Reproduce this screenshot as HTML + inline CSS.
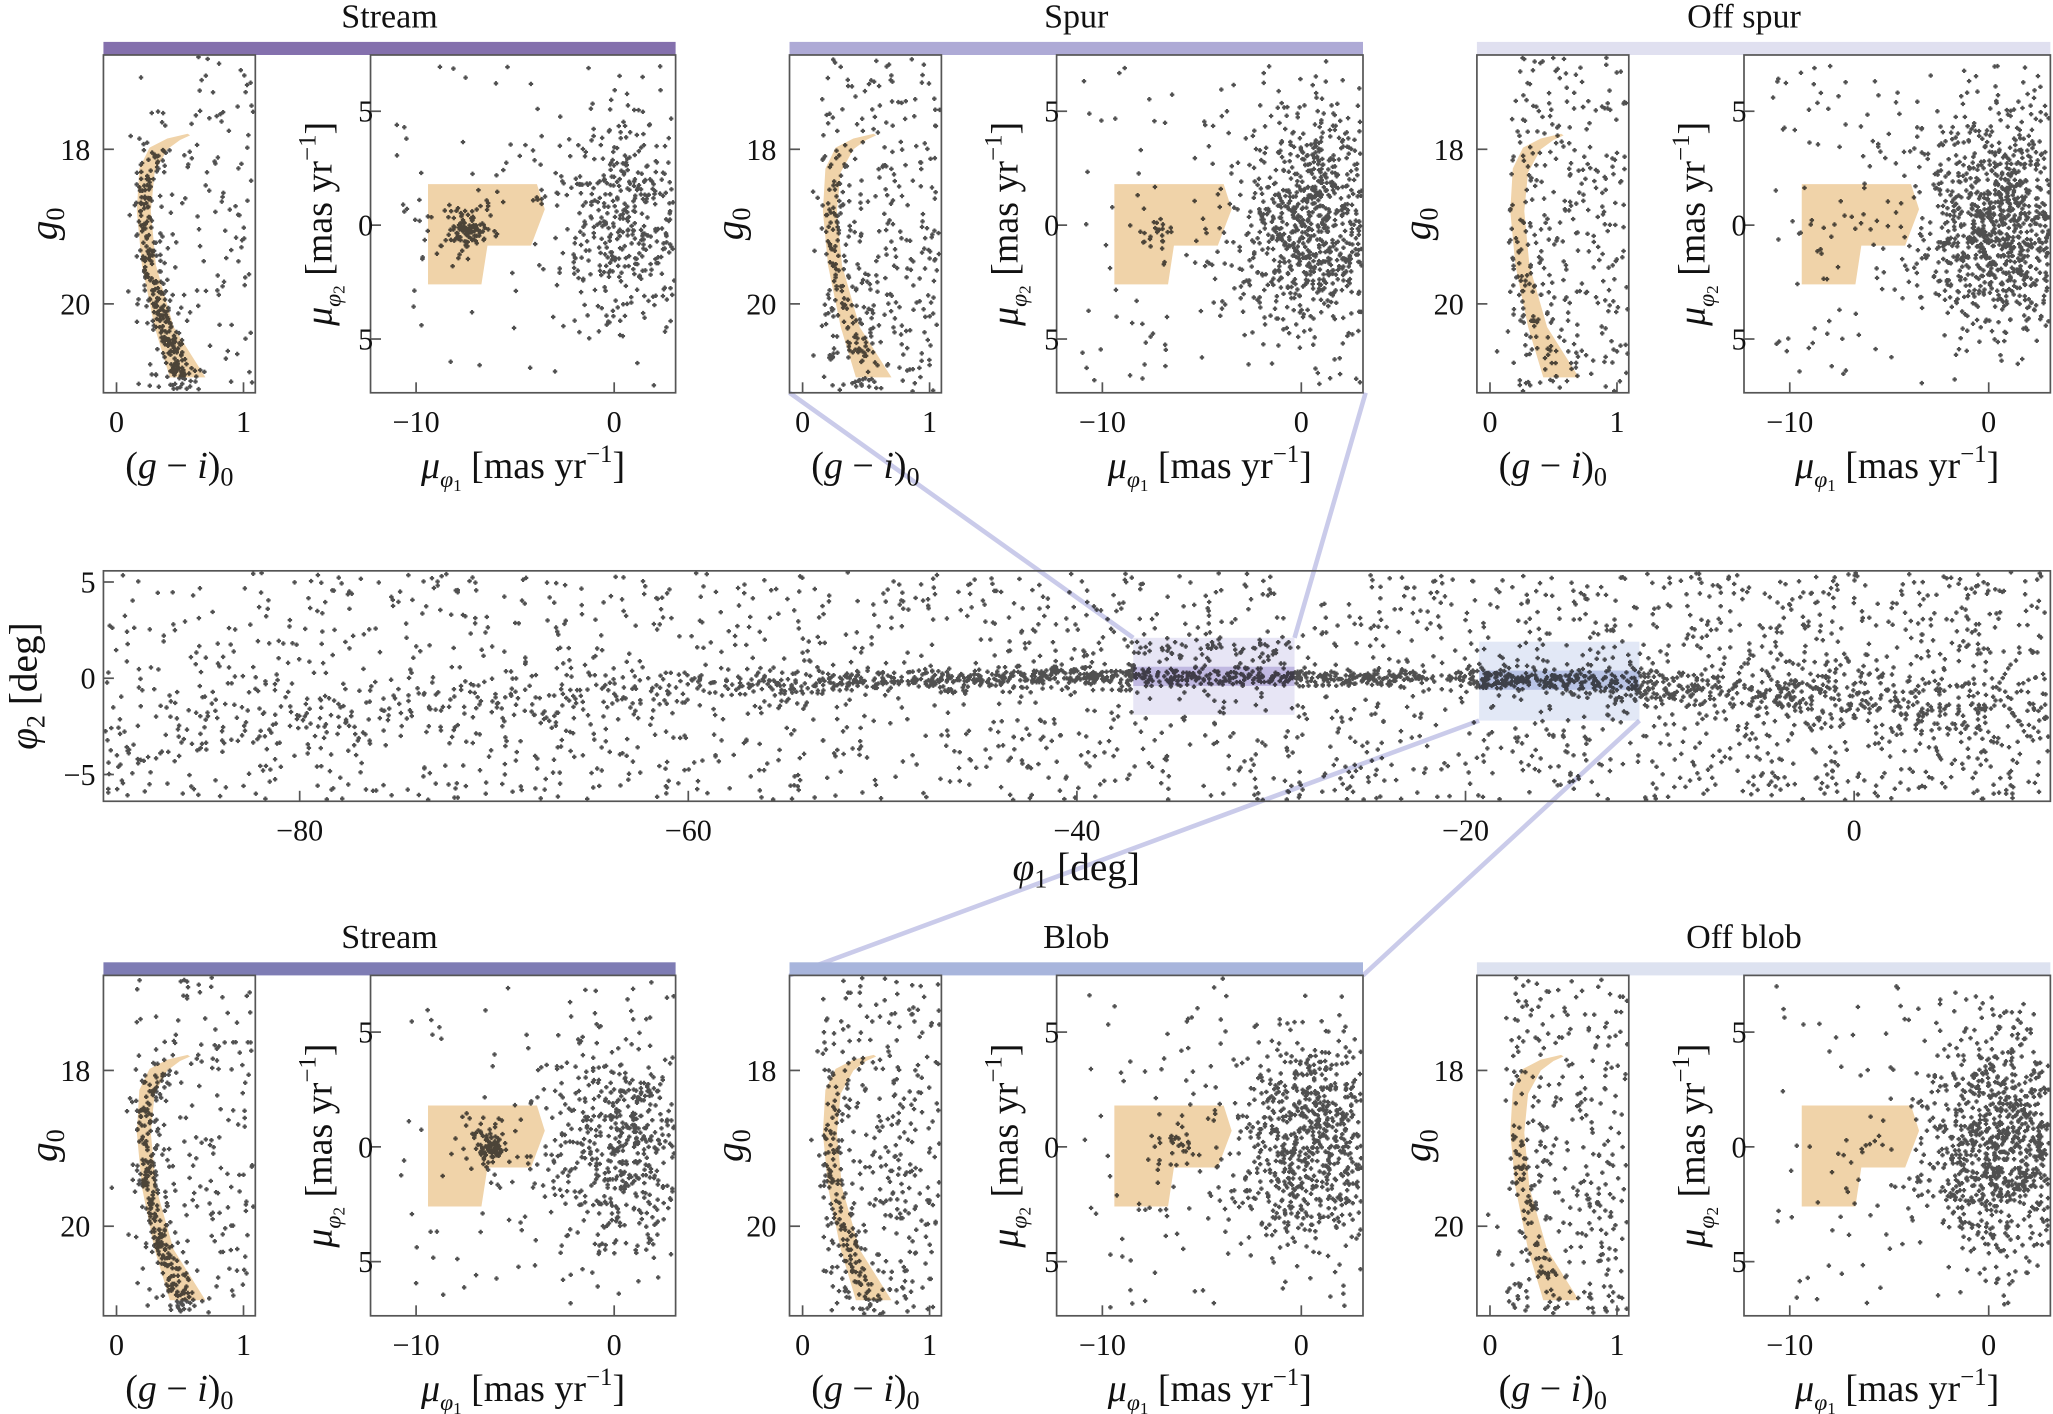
<!DOCTYPE html>
<html><head><meta charset="utf-8"><style>
html,body{margin:0;padding:0;background:#fff}
svg{display:block}
text{font-family:"Liberation Serif",serif;fill:#111}
</style></head><body>
<svg id="fig" xmlns="http://www.w3.org/2000/svg" width="2053" height="1414" viewBox="0 0 1568 1080" preserveAspectRatio="none">
<rect width="1568" height="1080" fill="#fff"/>
<g id="connectors"></g>
<g id="panels"></g>
</svg>
<script>
// ---------- data ----------
const panelTitles = ["Stream","Spur","Off spur","Stream","Blob","Off blob"];
const barColors = ["#8470ad","#aeaad6","#e0e0f0","#7e7cb4","#a8b5dc","#dde2f0"];
const cmdXTicks = [0,1];
const cmdYTicks = [18,20];
const pmXTicks = [-10,0];
const pmYTicks = [5,0,-5];
const pmYTickLabels = ["5","0","5"];
const midXTicks = [-80,-60,-40,-20,0];
const midXTickLabels = ["−80","−60","−40","−20","0"];
const midYTicks = [5,0,-5];
const midYTickLabels = ["5","0","−5"];
// isochrone selection band (g-i, g)
const isoX = [0.56,0.40,0.26,0.18,0.16,0.20,0.30,0.42,0.70,0.45,0.31,0.27,0.30,0.40,0.50,0.58];
const isoY = [17.80,17.86,17.98,18.25,18.8,19.5,20.3,20.95,20.95,20.3,19.5,18.8,18.3,18.0,17.88,17.82];
// member centreline
const memG = [18.0,18.4,18.8,19.5,20.3,20.95];
const memC = [0.36,0.25,0.22,0.26,0.37,0.52];
// proper-motion selection polygon
const pmPolyX = [-9.4,-3.9,-3.5,-4.2,-6.4,-6.7,-9.4];
const pmPolyY = [1.8,1.8,0.7,-0.9,-0.9,-2.6,-2.6];
// per-panel counts
const cmdMembers = [260,90,40,230,100,60];
const cmdField = [170,330,320,220,360,330];
const pmCluster = [130,25,6,110,35,8];
const pmField = [520,950,1150,620,900,1050];
const pmClusterX = [-7.4,-7.2,-7,-6.3,-6,-6];
const pmClusterY = [-0.2,-0.3,0,0,0.1,0];
// middle panel stream track
const trackX = [-90,-80,-70,-60,-50,-40,-30,-22,-21,-19,-15,-10,0,10];
const trackY = [-3,-2.3,-1.3,-0.5,-0.1,0.1,0.05,0,0,-0.05,-0.15,-0.4,-1.1,-1.8];
const trackW = [1.2,1.0,0.8,0.45,0.3,0.3,0.22,0.2,0.2,0.3,0.35,0.5,0.8,1.0];
const trackD = [0.25,0.4,0.35,0.5,1.1,1.5,1.6,1.0,0.15,1.4,1.7,1.2,1.0,0.8];
const fieldX = [-90,-50,-20,10];
const fieldD = [0.75,0.8,1.0,1.45];
const spurBox = [-37.1,-28.8,-1.9,2.1], spurStrip = [-0.4,0.6];
const blobBox = [-19.3,-11.05,-2.2,1.9], blobStrip = [-0.6,0.4];

// ---------- helpers ----------
const NS="http://www.w3.org/2000/svg";
const root=document.getElementById('panels');
const conn=document.getElementById('connectors');
function mk(tag,attrs,parent){const e=document.createElementNS(NS,tag);for(const k in attrs)e.setAttribute(k,attrs[k]);(parent||root).appendChild(e);return e;}
let seed=12345;
function rng(){seed|=0;seed=seed+0x6D2B79F5|0;let t=Math.imul(seed^seed>>>15,1|seed);t=t+Math.imul(t^t>>>7,61|t)^t;return((t^t>>>14)>>>0)/4294967296;}
function gauss(){let u=rng()||1e-9,v=rng();return Math.sqrt(-2*Math.log(u))*Math.cos(2*Math.PI*v);}
function interp(xs,ys,x){if(x<=xs[0])return ys[0];for(let i=1;i<xs.length;i++){if(x<=xs[i]){const t=(x-xs[i-1])/(xs[i]-xs[i-1]);return ys[i-1]+t*(ys[i]-ys[i-1]);}}return ys[ys.length-1];}
function axis(px0,px1,py0,py1,xmin,xmax,ytop,ybot){
  return {px0,px1,py0,py1,
    X:v=>px0+(v-xmin)/(xmax-xmin)*(px1-px0),
    Y:v=>py0+(v-ytop)/(ybot-ytop)*(py1-py0),
    inside(x,y){const a=this.X(x),b=this.Y(y);return a>px0+1&&a<px1-1&&b>py0+1&&b<py1-1;}};
}
function frame(ax,g,name){
  const r=mk('rect',{x:ax.px0,y:ax.py0,width:ax.px1-ax.px0,height:ax.py1-ax.py0,fill:'none',stroke:'#555','stroke-width':1.3},g);
  
  
}
function dots(ax,g,xs,ys,name){
  const grp=mk('g',{},g);
  
  
  let d='';
  for(let i=0;i<xs.length;i++){if(!ax.inside(xs[i],ys[i]))continue;const x=ax.X(xs[i]),y=ax.Y(ys[i]);d+=`M${(x-1.7).toFixed(1)} ${y.toFixed(1)}h3.4M${x.toFixed(1)} ${(y-1.7).toFixed(1)}v3.4`;}
  const p=mk('path',{d:d,stroke:'#0d0d0d','stroke-opacity':0.72,'stroke-width':1.6,fill:'none'},grp);
  
  
}
function xticks(ax,g,vals,labels,name){
  vals.forEach((v,i)=>{const x=ax.X(v);
    const l=mk('line',{x1:x,x2:x,y1:ax.py1,y2:ax.py1-8,stroke:'#555','stroke-width':1.3},g);
    
    
    const t=mk('text',{x:x,y:ax.py1+30,'text-anchor':'middle','font-size':23},g);t.textContent=labels[i];
    
    });
}
function yticks(ax,g,vals,labels,name,gap){
  vals.forEach((v,i)=>{const y=ax.Y(v);
    const l=mk('line',{x1:ax.px0,x2:ax.px0+8,y1:y,y2:y,stroke:'#555','stroke-width':1.3},g);
    
    
    const t=mk('text',{x:ax.px0-(gap||6),y:y+8,'text-anchor':'end','font-size':23},g);t.textContent=labels[i];
    
    });
}

// ---------- small panels ----------
const rowY=[[42,300],[745,1005]];
const cmdCols=[[79,195],[603,719],[1128,1244]];
const pmCols=[[283,516],[807,1041],[1332,1566]];
for(let p=0;p<6;p++){
  const r=Math.floor(p/3),c=p%3;
  const [y0,y1]=rowY[r];
  const g=mk('g',{});
  
  
  const bar=mk('rect',{x:cmdCols[c][0],y:y0-10,width:pmCols[c][1]-cmdCols[c][0],height:10,fill:barColors[p]},g);
  
  
  const tt=mk('text',{x:(cmdCols[c][0]+pmCols[c][1])/2-(c==2?15:0),y:y0-21,'text-anchor':'middle','font-size':26},g);tt.textContent=panelTitles[p];
  
  
  // CMD
  const ax=axis(cmdCols[c][0],cmdCols[c][1],y0,y1,-0.103,1.093,16.78,21.15);
  let pts='';for(let i=0;i<isoX.length;i++)pts+=ax.X(isoX[i]).toFixed(1)+','+ax.Y(isoY[i]).toFixed(1)+' ';
  const band=mk('polygon',{points:pts,fill:'#f0d3a9'},g);
  
  
  const cx=[],cy=[];
  for(let i=0;i<cmdMembers[p];i++){const gg=18.0+Math.pow(rng(),0.8)*3.1;cx.push(interp(memG,memC,gg)+gauss()*0.05);cy.push(gg);}
  for(let i=0;i<cmdField[p];i++){cx.push(0.15+rng()*0.95+(rng()<0.3?gauss()*0.1:0));cy.push(16.8+Math.pow(rng(),0.9)*4.4);}
  dots(ax,g,cx,cy,'cmd-stars');
  frame(ax,g,'cmd');
  xticks(ax,g,cmdXTicks,["0","1"],'cmd-x');
  yticks(ax,g,cmdYTicks,["18","20"],'cmd-y',10);
  const xl=mk('text',{x:(ax.px0+ax.px1)/2,y:y1+65,'text-anchor':'middle','font-size':29},g);
  xl.innerHTML='(<tspan font-style="italic">g</tspan> − <tspan font-style="italic">i</tspan>)<tspan font-size="20" dy="6">0</tspan>';
  
  
  const yl=mk('text',{x:0,y:0,'text-anchor':'middle','font-size':30,transform:`translate(${ax.px0-36},${(y0+y1)/2}) rotate(-90)`},g);
  yl.innerHTML='<tspan font-style="italic">g</tspan><tspan font-size="20" dy="6">0</tspan>';
  
  
  // PM
  const bx=axis(pmCols[c][0],pmCols[c][1],y0,y1,-12.3,3.1,7.47,-7.36);
  let pp='';for(let i=0;i<pmPolyX.length;i++)pp+=bx.X(pmPolyX[i]).toFixed(1)+','+bx.Y(pmPolyY[i]).toFixed(1)+' ';
  const poly=mk('polygon',{points:pp,fill:'#f0d3a9'},g);
  
  
  const px=[],py=[];
  for(let i=0;i<pmCluster[p];i++){const s=rng()<0.6?0.45:1.2;px.push(pmClusterX[p]+gauss()*s);py.push(pmClusterY[p]+gauss()*s*0.8);}
  for(let i=0;i<pmField[p];i++){if(rng()<0.12){px.push(-11+rng()*14);py.push(-7+rng()*14);}else{px.push(0.6+gauss()*2.0);py.push(0.2+gauss()*2.4);}}
  dots(bx,g,px,py,'pm-stars');
  frame(bx,g,'pm');
  xticks(bx,g,pmXTicks,["−10","0"],'pm-x');
  yticks(bx,g,pmYTicks,pmYTickLabels,'pm-y',-2);
  const pxl=mk('text',{x:(bx.px0+bx.px1)/2,y:y1+65,'text-anchor':'middle','font-size':29},g);
  pxl.innerHTML='<tspan font-style="italic">μ</tspan><tspan font-size="18" dy="7" font-style="italic">φ</tspan><tspan font-size="13" dy="3">1</tspan><tspan dy="-10"> [mas yr</tspan><tspan font-size="19" dy="-12">−1</tspan><tspan dy="12">]</tspan>';
  
  
  const pyl=mk('text',{x:0,y:0,'text-anchor':'middle','font-size':29,transform:`translate(${bx.px0-30},${(y0+y1)/2}) rotate(-90)`},g);
  pyl.innerHTML='<tspan font-style="italic">μ</tspan><tspan font-size="18" dy="7" font-style="italic">φ</tspan><tspan font-size="13" dy="3">2</tspan><tspan dy="-10"> [mas yr</tspan><tspan font-size="19" dy="-12">−1</tspan><tspan dy="12">]</tspan>';
  
  
}

// ---------- middle panel ----------
const mg=mk('g',{});


const M=axis(79,1566,436,612,-90.1,10.1,5.58,-6.39);
function box(b,s,outer,inner,name){
  const o=mk('rect',{x:M.X(b[0]),y:M.Y(b[3]),width:M.X(b[1])-M.X(b[0]),height:M.Y(b[2])-M.Y(b[3]),fill:outer},mg);
  
  
  const i=mk('rect',{x:M.X(b[0]),y:M.Y(s[1]),width:M.X(b[1])-M.X(b[0]),height:M.Y(s[0])-M.Y(s[1]),fill:inner},mg);
  
  
}
box(spurBox,spurStrip,'rgba(160,150,215,0.25)','rgba(120,100,190,0.35)','spur');
box(blobBox,blobStrip,'rgba(160,180,225,0.3)','rgba(110,130,200,0.35)','blob');
const lc='#cacbea';
[[603,300,M.X(spurBox[0]),M.Y(spurBox[3])],[1043,300,M.X(spurBox[1]),M.Y(spurBox[3])],
 [M.X(blobBox[0]),M.Y(blobBox[2]),603,745],[M.X(blobBox[1]),M.Y(blobBox[2]),1041,745]].forEach(l=>{
  const e=mk('line',{x1:l[0],y1:l[1],x2:l[2],y2:l[3],stroke:lc,'stroke-width':3.5},conn);
  
  
});
const mx=[],my=[];
const fmax=Math.max(...fieldD);
let n=0;while(n<2300){const x=-90+rng()*100;if(rng()*fmax<interp(fieldX,fieldD,x)){mx.push(x);my.push(-6.4+rng()*12);n++;}}
const tmax=Math.max(...trackD);
n=0;while(n<1700){const x=-90+rng()*100;if(rng()*tmax<interp(trackX,trackD,x)){const inSpur=x>spurBox[0]&&x<spurBox[1]&&rng()<0.25;mx.push(x);my.push(interp(trackX,trackY,x)+gauss()*interp(trackX,trackW,x)+(inSpur?0.9+rng()*1.0:0));n++;}}
dots(M,mg,mx,my,'sky-stars');
frame(M,mg,'sky');
xticks(M,mg,midXTicks,midXTickLabels,'sky-x');
yticks(M,mg,midYTicks,midYTickLabels,'sky-y',6);
const mxl=mk('text',{x:822,y:672,'text-anchor':'middle','font-size':30},mg);
mxl.innerHTML='<tspan font-style="italic">φ</tspan><tspan font-size="20" dy="6">1</tspan><tspan dy="-6"> [deg]</tspan>';


const myl=mk('text',{x:0,y:0,'text-anchor':'middle','font-size':30,transform:'translate(28,524) rotate(-90)'},mg);
myl.innerHTML='<tspan font-style="italic">φ</tspan><tspan font-size="20" dy="6">2</tspan><tspan dy="-6"> [deg]</tspan>';


</script>
</body></html>
